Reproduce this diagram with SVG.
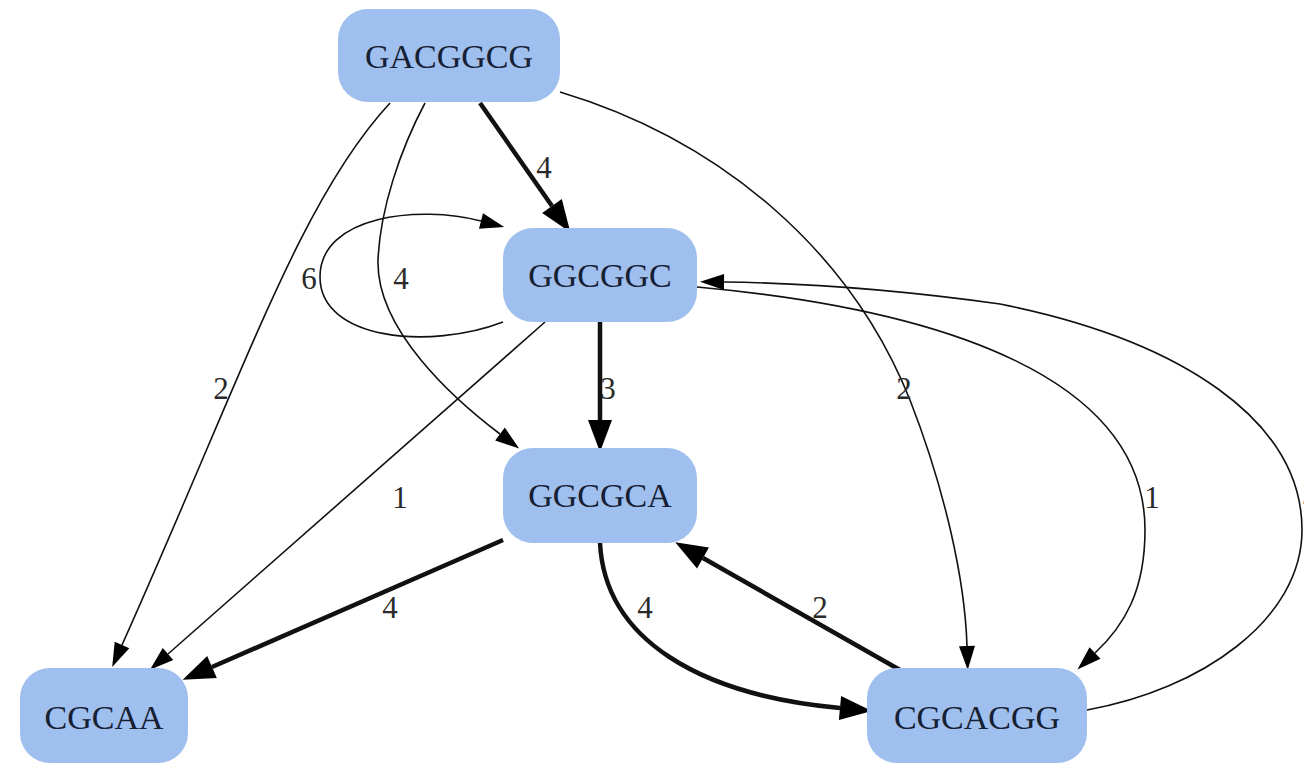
<svg xmlns="http://www.w3.org/2000/svg" width="1304" height="763" viewBox="0 0 1304 763">
<style>
.node rect{fill:#9fbfee;stroke:none}
.node text{font-family:"Liberation Serif","Times New Roman",serif;font-size:34px;fill:#152033;text-anchor:middle}
.edge{fill:none;stroke:#111;stroke-linecap:butt}
.thin{stroke-width:1.6;marker-end:url(#ah)}
.thick{stroke-width:4.5;marker-end:url(#ahb)}
.lbl{font-family:"Liberation Serif","Times New Roman",serif;font-size:31px;fill:#2a2a2a;text-anchor:middle}
</style>
<defs>
<marker id="ah" markerUnits="userSpaceOnUse" viewBox="0 -8 24 16" markerWidth="24" markerHeight="16" refX="0" refY="0" orient="auto" overflow="visible">
<path d="M0,-8 L24,0 L0,8 z" fill="#000"/>
</marker>
<marker id="ahb" markerUnits="userSpaceOnUse" viewBox="0 -12 32 24" markerWidth="32" markerHeight="24" refX="0" refY="0" orient="auto" overflow="visible">
<path d="M0,-12 L32,0 L0,12 z" fill="#000"/>
</marker>
</defs>
<rect width="1304" height="763" fill="#fff"/>
<g id="edges">
<path class="edge thick" d="M480,103 L552,206"/>
<path class="edge thin" d="M390,103 C300,200 245,370 122,645"/>
<path class="edge thin" d="M425,103 C400,150 380,210 378,260 C376,330 455,400 500,434"/>
<path class="edge thin" d="M560,92 C720,140 850,250 910,400 C945,490 965,580 967,646"/>
<path class="edge thin" d="M503,322 C430,350 320,340 320,277 C320,215 420,205 481,221"/>
<path class="edge thick" d="M600,322 L600,420"/>
<path class="edge thin" d="M545,322 L168,654"/>
<path class="edge thin" d="M697,287 C950,310 1145,380 1145,530 C1145,590 1125,625 1095,653"/>
<path class="edge thin" d="M1087,710 C1200,690 1302,620 1302,530 C1302,420 1180,340 1000,304 C900,290 800,283 724,282"/>
<path class="edge thick" d="M503,540 L212,667"/>
<path class="edge thick" d="M600,543 C605,640 700,695 840,708"/>
<path class="edge thick" d="M900,670 L703,558"/>
<text class="lbl" x="221" y="399">2</text>
<text class="lbl" x="544" y="178">4</text>
<text class="lbl" x="401" y="289">4</text>
<text class="lbl" x="904" y="399">2</text>
<text class="lbl" x="309" y="289">6</text>
<text class="lbl" x="608" y="399">3</text>
<text class="lbl" x="400" y="508">1</text>
<text class="lbl" x="1152" y="508">1</text>
<text class="lbl" x="1310" y="504">2</text>
<text class="lbl" x="390" y="618">4</text>
<text class="lbl" x="645" y="618">4</text>
<text class="lbl" x="820" y="618">2</text>
</g>
<g id="GACGGCG" class="node"><rect x="338" y="9" width="222" height="93" rx="30"/><text x="449" y="68">GACGGCG</text></g>
<g id="GGCGGC" class="node"><rect x="503" y="228" width="194" height="94" rx="30"/><text x="600" y="287">GGCGGC</text></g>
<g id="GGCGCA" class="node"><rect x="503" y="448" width="194" height="95" rx="30"/><text x="600" y="507">GGCGCA</text></g>
<g id="CGCAA" class="node"><rect x="20" y="668" width="168" height="95" rx="30"/><text x="104" y="729">CGCAA</text></g>
<g id="CGCACGG" class="node"><rect x="867" y="668" width="220" height="95" rx="30"/><text x="977" y="729">CGCACGG</text></g>
</svg>
